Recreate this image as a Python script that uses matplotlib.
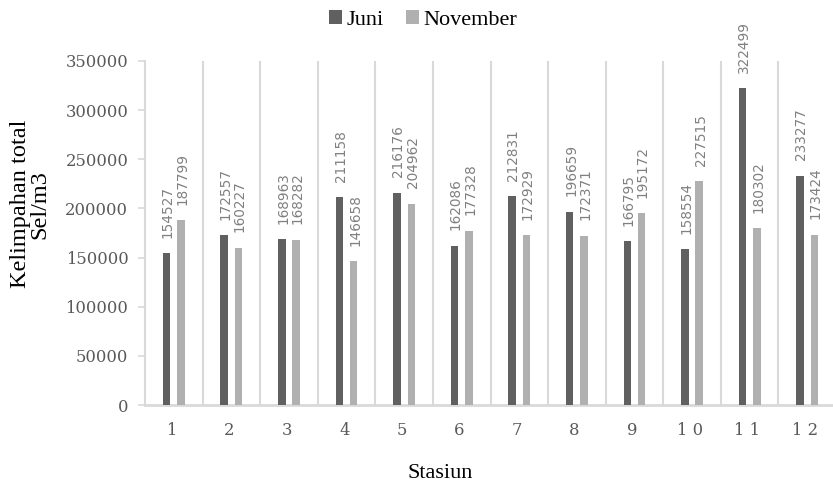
import numpy as np
import matplotlib
matplotlib.use("Agg")
import matplotlib.pyplot as plt

# station numbers and cell counts per month
stations = ["1", "2", "3", "4", "5", "6", "7", "8", "9", "1 0", "1 1", "1 2"]
juni = [154527, 172557, 168963, 211158, 216176, 162086, 212831, 196659, 166795, 158554, 322499, 233277]
november = [187799, 160227, 168282, 146658, 204962, 177328, 172929, 172371, 195172, 227515, 180302, 173424]

c_juni = "#606060"
c_nov = "#b0b0b0"
c_grid = "#d9d9d9"
c_text = "#595959"

fig = plt.figure(figsize=(8.33, 4.88), dpi=100)
ax = fig.add_axes([145 / 833, 83 / 488, 691 / 833, 344 / 488])

x = np.arange(1, len(stations) + 1)
width = 0.13
off = 0.125
b1 = ax.bar(x - off, juni, width, color=c_juni, label="Juni", zorder=3)
b2 = ax.bar(x + off, november, width, color=c_nov, label="November", zorder=3)

# value labels, rotated, just above each bar
for bars, vals in ((b1, juni), (b2, november)):
    for bar, v in zip(bars, vals):
        ax.annotate(str(v), (bar.get_x() + bar.get_width() / 2, v),
                    xytext=(1, 11), textcoords="offset points",
                    rotation=90, ha="center", va="bottom",
                    fontsize=9.8, color="#808080", family="DejaVu Sans")

ax.set_xlim(0.5, 12.5)
ax.set_ylim(0, 350000)
ax.set_yticks(np.arange(0, 350001, 50000))
ax.set_xticks(x - 0.04)
ax.set_xticklabels(stations)

# category separators
for b in np.arange(1.5, 12.5, 1):
    ax.axvline(b, color=c_grid, lw=1.5, zorder=1)

for side in ("top", "right"):
    ax.spines[side].set_visible(False)
ax.spines["left"].set_color(c_grid)
ax.spines["left"].set_linewidth(1.5)
ax.spines["bottom"].set_color(c_grid)
ax.spines["bottom"].set_linewidth(2)

ax.tick_params(axis="y", length=5, width=1.2, color=c_grid, pad=7,
               labelsize=11.8, labelcolor=c_text)
ax.tick_params(axis="x", length=0, pad=12, labelsize=11.8, labelcolor=c_text)
for lab in ax.get_xticklabels() + ax.get_yticklabels():
    lab.set_family("DejaVu Serif")

ax.set_xlabel("Stasiun", family="Liberation Serif", fontsize=16)
ax.xaxis.set_label_coords(0.427, -0.198)
ax.xaxis.label.set_va("center")
ax.set_ylabel("Kelimpahan total\nSel/m3", family="Liberation Serif",
              fontsize=17.5, linespacing=0.85)
ax.yaxis.set_label_coords(-0.166, 0.584)
ax.yaxis.label.set_va("center")

fig.legend(loc="upper center", bbox_to_anchor=(0.508, 1.02), ncol=2, frameon=False,
           prop={"family": "Liberation Serif", "size": 16},
           handlelength=0.6, handleheight=0.6, handletextpad=0.2, columnspacing=1.0)

fig.savefig("out.png", dpi=100)
